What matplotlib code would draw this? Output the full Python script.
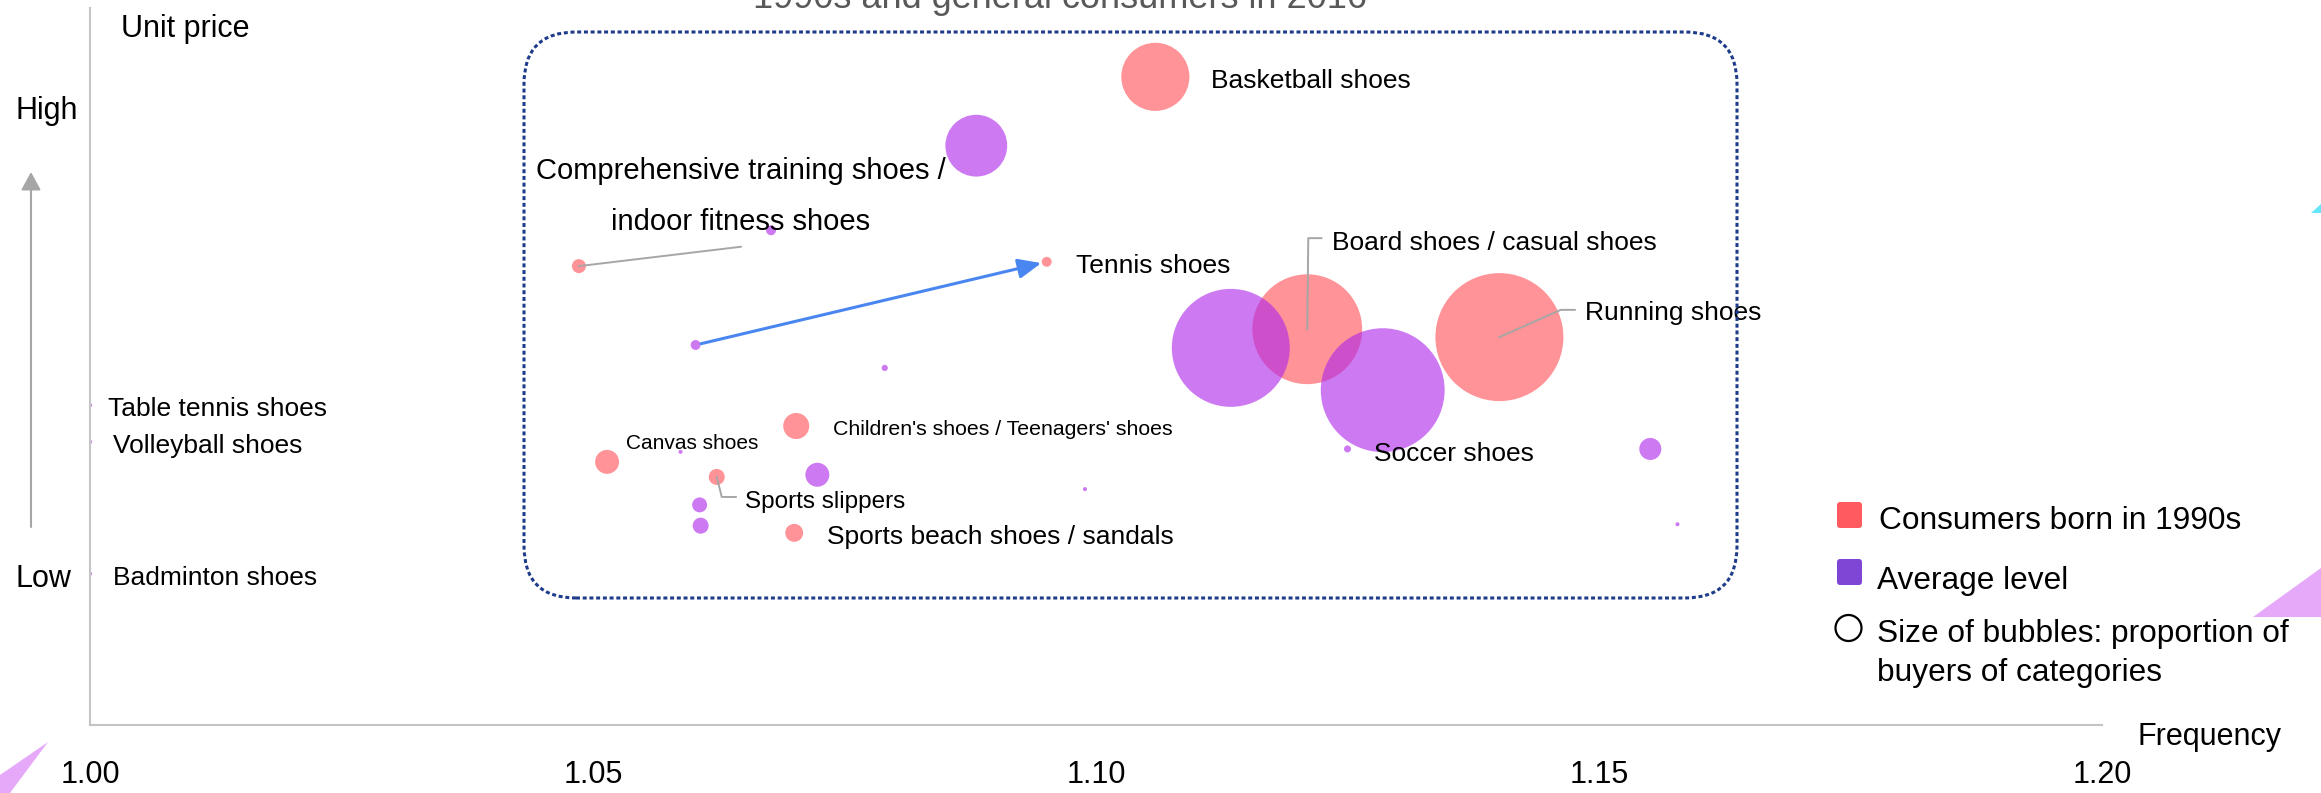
import matplotlib
matplotlib.use('Agg')
import matplotlib.pyplot as plt
from matplotlib.patches import FancyBboxPatch, FancyArrowPatch, Polygon, Circle
from matplotlib.transforms import IdentityTransform

plt.rcParams['font.family'] = ['Liberation Sans', 'DejaVu Sans']

W, H = 2321, 793

# consumers born in the 1990s (pink)
young_names = ['Basketball shoes', 'Running shoes', 'Board shoes / casual shoes', 'Tennis shoes',
               'Comprehensive training shoes / indoor fitness shoes',
               "Children's shoes / Teenagers' shoes", 'Canvas shoes', 'Sports slippers',
               'Sports beach shoes / sandals']
young_freq = [1.1059, 1.1401, 1.1210, 1.0951, 1.0486, 1.0702, 1.0514, 1.0623, 1.0700]
young_price = [90.4, 54.1, 55.2, 64.6, 64.0, 41.7, 36.7, 34.6, 26.8]
young_share = [8.5, 30.0, 22.1, 0.18, 0.36, 1.24, 1.05, 0.47, 0.59]

# average level (purple)
avg_freq = [1.0881, 1.0677, 1.0602, 1.0790, 1.1134, 1.1285, 1.0587, 1.0723, 1.0606,
            1.0607, 1.0989, 1.1250, 1.1551, 1.1578, 1.0, 1.0, 1.0]
avg_price = [80.8, 69.0, 53.0, 49.8, 52.6, 46.7, 38.1, 34.9, 30.7,
             27.8, 32.9, 38.5, 38.5, 28.0, 44.6, 39.5, 21.1]
avg_share = [7.0, 0.18, 0.18, 0.07, 25.5, 28.1, 0.03, 1.05, 0.41,
             0.47, 0.03, 0.09, 0.89, 0.03, 0.03, 0.03, 0.03]

x_ticks = [1.00, 1.05, 1.10, 1.15, 1.20]
price_levels = [86.1, 20.8]
price_labels = ['High', 'Low']

SIZE = 283  # pt^2 per percent of buyers

PINK = '#FF5A5F'
PURPLE = '#AF28EB'
GRAY = '#A6A6A6'

fig = plt.figure(figsize=(W / 100, H / 100), dpi=100)
ax = fig.add_axes([90 / W, (H - 725) / H, (2102 - 90) / W, (725 - 8) / H])
ax.set_xlim(1.0, 1.2)
ax.set_ylim(0, 100)

ax.scatter(young_freq, young_price, s=[v * SIZE for v in young_share], color=PINK,
           alpha=0.65, edgecolors='none', zorder=2)
ax.scatter(avg_freq, avg_price, s=[v * SIZE for v in avg_share], color=PURPLE,
           alpha=0.62, edgecolors='none', zorder=2)

for side in ['top', 'right']:
    ax.spines[side].set_visible(False)
for side in ['left', 'bottom']:
    ax.spines[side].set_color('#C4C4C4')
    ax.spines[side].set_linewidth(1.5)

ax.set_xticks(x_ticks)
ax.set_xticklabels([f'{t:.2f}' for t in x_ticks])
ax.tick_params(axis='x', length=0, pad=25, labelsize=22)
ax.set_yticks(price_levels)
ax.set_yticklabels(price_labels)
ax.tick_params(axis='y', length=0, pad=54, labelsize=22)
plt.setp(ax.get_yticklabels(), ha='left')

# labels (text, x, y baseline, size)
labels = [
    ('Basketball shoes', 1.1114, 88.9, 19),
    ('Tennis shoes', 1.0980, 63.1, 19),
    ('Board shoes / casual shoes', 1.1235, 66.3, 19),
    ('Running shoes', 1.1486, 56.5, 19),
    ('Canvas shoes', 1.0533, 38.5, 15),
    ("Children's shoes / Teenagers' shoes", 1.0739, 40.4, 15.3),
    ('Soccer shoes', 1.1276, 36.8, 19),
    ('Sports slippers', 1.0651, 30.2, 17.5),
    ('Sports beach shoes / sandals', 1.0733, 25.2, 19),
    ('Table tennis shoes', 1.0018, 43.1, 19),
    ('Volleyball shoes', 1.0023, 37.9, 19),
    ('Badminton shoes', 1.0023, 19.5, 19),
]
for txt, x, y, fs in labels:
    ax.text(x, y, txt, fontsize=fs, ha='left', va='baseline', zorder=4)

ax.text(1.0647, 76.2, 'Comprehensive training shoes /', fontsize=21, ha='center', va='baseline', zorder=4)
ax.text(1.0647, 69.0, 'indoor fitness shoes', fontsize=21, ha='center', va='baseline', zorder=4)

# leader lines
ax.plot([young_freq[4], 1.0647], [young_price[4], 66.7], color=GRAY, lw=1.4, zorder=3)
ax.plot([young_freq[2], 1.1211, 1.1224], [young_price[2], 67.9, 67.9], color=GRAY, lw=1.4, zorder=3)
ax.plot([young_freq[1], 1.1462, 1.1476], [young_price[1], 57.9, 57.9], color=GRAY, lw=1.4, zorder=3)
ax.plot([young_freq[7], 1.0628, 1.0642], [young_price[7], 31.8, 31.8], color=GRAY, lw=1.4, zorder=3)

# tennis shift arrow
ax.annotate('', xy=(young_freq[3], young_price[3]), xytext=(avg_freq[2], avg_price[2]),
            arrowprops=dict(arrowstyle='-|>,head_length=0.7,head_width=0.3', color='#4A86F0',
                            lw=2.2, mutation_scale=20, shrinkA=4, shrinkB=4), zorder=4)

px = IdentityTransform()

# dotted frame
fig.add_artist(FancyBboxPatch((524, H - 598), 1213, 566, boxstyle='round,pad=0,rounding_size=52',
                              transform=px, fill=False, ec='#1E3C8A', lw=2.2,
                              ls=(0, (1.3, 0.9))))

# unit price arrow
fig.add_artist(FancyArrowPatch((31, H - 527), (31, H - 172), transform=px,
                               arrowstyle='-|>,head_length=0.55,head_width=0.3',
                               mutation_scale=20, color=GRAY, lw=1.5, shrinkA=0, shrinkB=0))

fig.text(121 / W, 1 - 36.7 / H, 'Unit price', fontsize=22, ha='left', va='baseline')
fig.text(2137 / W, 1 - 745 / H, 'Frequency', fontsize=22, ha='left', va='baseline')
fig.text(1060 / W, 1 - 8 / H, '1990s and general consumers in 2016', fontsize=26,
         color='#595959', ha='center', va='baseline')

# legend
fig.add_artist(FancyBboxPatch((1837, H - 528), 25, 26, boxstyle='round,pad=0,rounding_size=3',
                              transform=px, fc='#FF5A5F', ec='none'))
fig.add_artist(FancyBboxPatch((1837, H - 585), 25, 26, boxstyle='round,pad=0,rounding_size=3',
                              transform=px, fc='#7F46D6', ec='none'))
fig.add_artist(Circle((1848.5, H - 628), 13, transform=px, fill=False, ec='black', lw=1.6))
fig.text(1879 / W, 1 - 528.6 / H, 'Consumers born in 1990s', fontsize=22.8, va='baseline')
fig.text(1877 / W, 1 - 589.5 / H, 'Average level', fontsize=22.8, va='baseline')
fig.text(1877 / W, 1 - 641.8 / H, 'Size of bubbles: proportion of', fontsize=22.8, va='baseline')
fig.text(1877 / W, 1 - 680.9 / H, 'buyers of categories', fontsize=22.8, va='baseline')

# decorative corner shapes
fig.add_artist(Polygon([(48, H - 742), (0, H - 775), (0, 0), (10, 0)], transform=px,
                       fc='#E6A9FA', ec='none'))
fig.add_artist(Polygon([(2253, H - 617), (2321, H - 617), (2321, H - 568)], transform=px,
                       fc='#E6A9FA', ec='none'))
fig.add_artist(Polygon([(2311, H - 213), (2321, H - 204), (2321, H - 213)], transform=px,
                       fc='#66E6FA', ec='none'))

fig.savefig('out.png', dpi=100)
